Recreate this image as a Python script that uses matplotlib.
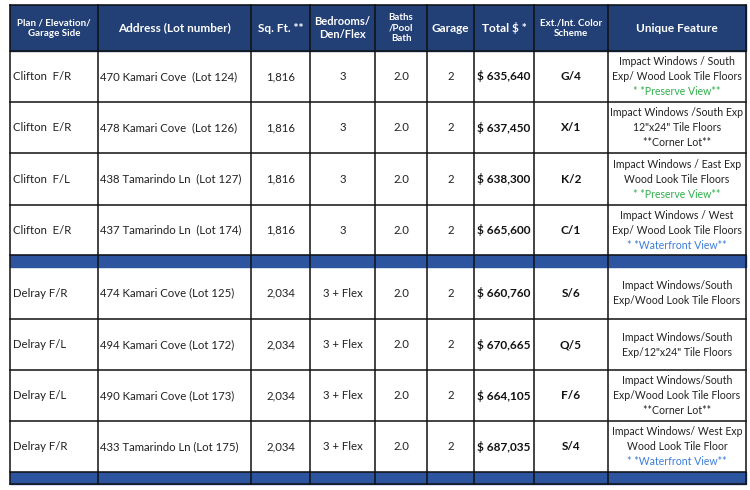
import matplotlib.pyplot as plt
from matplotlib.patches import Rectangle

plt.rcParams['font.family'] = ['Lato', 'DejaVu Sans']

# column headers
headers = ["Plan / Elevation/\nGarage Side", "Address (Lot number)", "Sq. Ft. **",
           "Bedrooms/\nDen/Flex", "Baths\n/Pool\nBath", "Garage", "Total $ *",
           "Ext./Int. Color\nScheme", "Unique Feature"]
header_sizes = [7, 8.5, 8.5, 8, 7, 8.5, 8.5, 7, 8.5]

# table data
plans = ["Clifton  F/R", "Clifton  E/R", "Clifton  F/L", "Clifton  E/R",
         "Delray F/R", "Delray F/L", "Delray E/L", "Delray F/R"]
addresses = ["470 Kamari Cove  (Lot 124)", "478 Kamari Cove  (Lot 126)",
             "438 Tamarindo Ln  (Lot 127)", "437 Tamarindo Ln  (Lot 174)",
             "474 Kamari Cove (Lot 125)", "494 Kamari Cove (Lot 172)",
             "490 Kamari Cove (Lot 173)", "433 Tamarindo Ln (Lot 175)"]
sqft = ["1,816", "1,816", "1,816", "1,816", "2,034", "2,034", "2,034", "2,034"]
bedrooms = ["3", "3", "3", "3", "3 + Flex", "3 + Flex", "3 + Flex", "3 + Flex"]
baths = ["2.0"] * 8
garage = ["2"] * 8
totals = ["$ 635,640", "$ 637,450", "$ 638,300", "$ 665,600",
          "$ 660,760", "$ 670,665", "$ 664,105", "$ 687,035"]
schemes = ["G/4", "X/1", "K/2", "C/1", "S/6", "Q/5", "F/6", "S/4"]
features = [
    [("Impact Windows / South", "k"), ("Exp/ Wood Look Tile Floors", "k"), ("* *Preserve View**", "g")],
    [("Impact Windows /South Exp", "k"), ('12"x24" Tile Floors', "k"), ("**Corner Lot**", "k")],
    [("Impact Windows / East Exp", "k"), ("Wood Look Tile Floors", "k"), ("* *Preserve View**", "g")],
    [("Impact Windows / West", "k"), ("Exp/ Wood Look Tile Floors", "k"), ("* *Waterfront View**", "b")],
    [("Impact Windows/South", "k"), ("Exp/Wood Look Tile Floors", "k")],
    [("Impact Windows/South", "k"), ('Exp/12"x24" Tile Floors', "k")],
    [("Impact Windows/South", "k"), ("Exp/Wood Look Tile Floors", "k"), ("**Corner Lot**", "k")],
    [("Impact Windows/ West Exp", "k"), ("Wood Look Tile Floor", "k"), ("* *Waterfront View**", "b")],
]
text_colors = {"k": "#222222", "g": "#2eb04b", "b": "#3b7dd8"}

# layout (pixels)
col_edges = [10, 98, 251, 310, 375, 427, 474, 534, 608, 746]
header_top, header_bot = 5, 51
row_h = [51, 51, 52, 50, 52, 51, 51, 51]
sep_h = 12
header_color = "#223f76"
sep_color = "#2d559f"

fig = plt.figure(figsize=(7.5, 4.9), dpi=100)
ax = fig.add_axes([0, 0, 1, 1])
ax.set_xlim(0, 750)
ax.set_ylim(490, 0)
ax.axis('off')

# header
ax.add_patch(Rectangle((col_edges[0], header_top), col_edges[-1] - col_edges[0],
                       header_bot - header_top, color=header_color, zorder=1))
for i, h in enumerate(headers):
    cx = (col_edges[i] + col_edges[i + 1]) / 2
    ax.text(cx, (header_top + header_bot) / 2, h, color="white", fontsize=header_sizes[i],
            fontweight="bold", ha="center", va="center", linespacing=1.15, zorder=3)

# rows
y = header_bot
row_tops = []
for r in range(len(plans)):
    row_tops.append(y)
    y += row_h[r]
    if r == 3 or r == 7:
        ax.add_patch(Rectangle((col_edges[0], y), col_edges[-1] - col_edges[0], sep_h,
                               color=sep_color, zorder=1))
        y += sep_h
table_bot = y

for r in range(len(plans)):
    top = row_tops[r]
    cy = top + row_h[r] / 2
    ax.text(col_edges[0] + 3, cy, plans[r], fontsize=8.2, ha="left", va="center", color="#222222")
    ax.text(col_edges[1] + 2, cy, addresses[r], fontsize=8.2, ha="left", va="center", color="#222222")
    simple = [sqft[r], bedrooms[r], baths[r], garage[r]]
    for j, val in enumerate(simple):
        cx = (col_edges[2 + j] + col_edges[3 + j]) / 2
        ax.text(cx, cy, val, fontsize=8.2, ha="center", va="center", color="#222222")
    ax.text((col_edges[6] + col_edges[7]) / 2, cy, totals[r], fontsize=8.5, fontweight="bold",
            ha="center", va="center", color="#111111")
    ax.text((col_edges[7] + col_edges[8]) / 2, cy, schemes[r], fontsize=8.5, fontweight="bold",
            ha="center", va="center", color="#111111")
    lines = features[r]
    fx = (col_edges[8] + col_edges[9]) / 2
    n = len(lines)
    for k, (txt, c) in enumerate(lines):
        ly = cy + (k - (n - 1) / 2) * 15
        ax.text(fx, ly, txt, fontsize=7.6, ha="center", va="center", color=text_colors[c])

# grid lines
for x in col_edges:
    ax.plot([x, x], [header_top, table_bot], color="#111111", lw=1.1, zorder=4)
ax.plot([col_edges[0], col_edges[-1]], [header_top, header_top], color="#111111", lw=1.1, zorder=4)
ax.plot([col_edges[0], col_edges[-1]], [table_bot, table_bot], color="#111111", lw=1.1, zorder=4)
ax.plot([col_edges[0], col_edges[-1]], [header_bot, header_bot], color="#111111", lw=1.1, zorder=4)
for r in range(len(plans)):
    bot = row_tops[r] + row_h[r]
    ax.plot([col_edges[0], col_edges[-1]], [bot, bot], color="#111111", lw=1.1, zorder=4)

fig.savefig("out.png", dpi=100)
